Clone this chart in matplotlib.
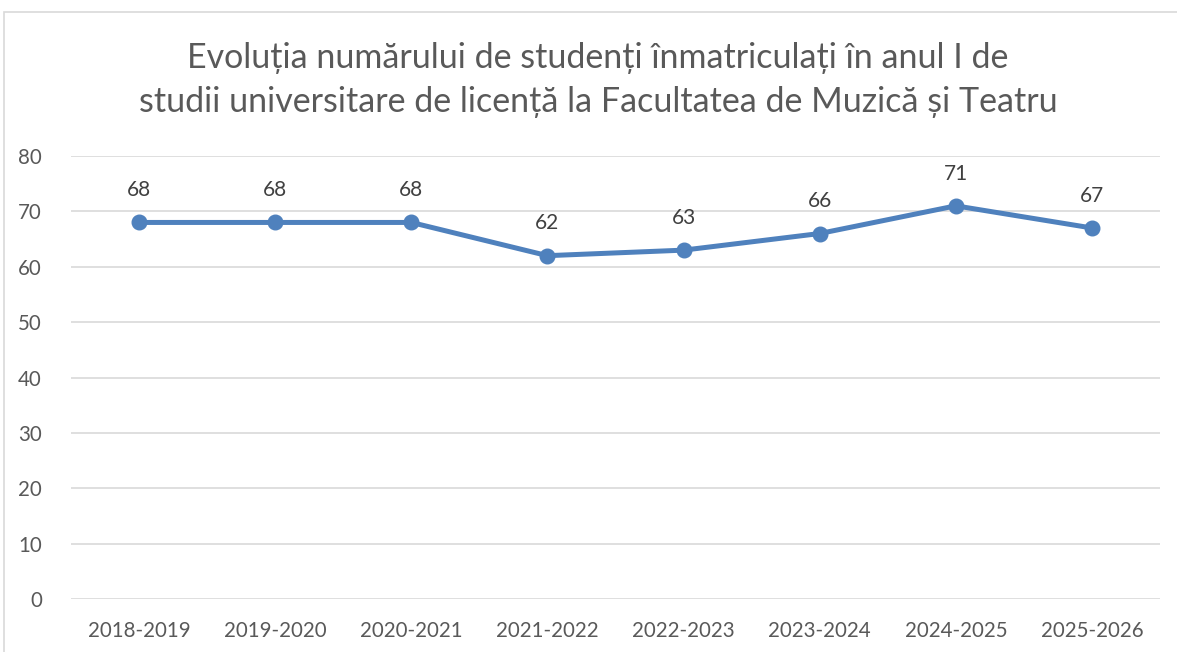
import numpy as np
import matplotlib.pyplot as plt
from matplotlib.patches import Rectangle

#Data
years = ['2018-2019', '2019-2020', '2020-2021', '2021-2022',
         '2022-2023', '2023-2024', '2024-2025', '2025-2026']
students = [68, 68, 68, 62, 63, 66, 71, 67]
yticks = [0, 10, 20, 30, 40, 50, 60, 70, 80]

title = ('Evoluția numărului de studenți înmatriculați în anul I de\n'
         'studii universitare de licență la Facultatea de Muzică și Teatru')

plt.rcParams['font.family'] = ['Lato', 'DejaVu Sans']

fig = plt.figure(figsize=(11.77, 6.52), dpi=100)
W, H = 1177, 652

#outer chart frame (cut by the picture edges)
fig.patches.append(Rectangle((3.5/W, -0.1), 1.2, (H - 11.5)/H + 0.1,
                             transform=fig.transFigure, fill=False,
                             edgecolor='#d9d9d9', linewidth=1.2))

ax = fig.add_axes([71/W, 1 - 599/H, (1160 - 71)/W, (599 - 156)/H])
x = np.arange(len(years))
ax.plot(x, students, color='#4f81bd', linewidth=3.6, marker='o',
        markersize=10.5, solid_capstyle='round')

for xi, v in zip(x, students):
    ax.annotate(str(v), (xi, v), textcoords='offset points', xytext=(0, 16),
                ha='center', va='bottom', fontsize=15, color='#404040')

ax.set_xlim(-0.5, len(years) - 0.5)
ax.set_ylim(0, 80)
ax.set_yticks(yticks)
ax.set_xticks(x)
ax.set_xticklabels(years)
ax.grid(axis='y', color='#d9d9d9', linewidth=1.2)
ax.set_axisbelow(True)
for s in ax.spines.values():
    s.set_visible(False)
ax.tick_params(axis='both', length=0, labelsize=14.8, colors='#595959')
ax.tick_params(axis='y', pad=21)
ax.tick_params(axis='x', pad=16)

fig.text(598/W, 1 - 80/H, title, ha='center', va='center', fontsize=24.5,
         color='#595959', linespacing=1.5)

plt.savefig('out.png', dpi=100)
